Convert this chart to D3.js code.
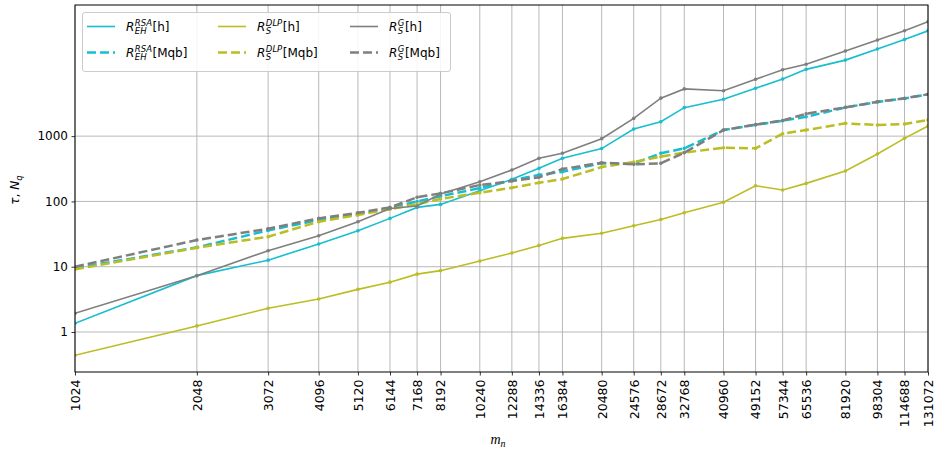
<!DOCTYPE html>
<html><head><meta charset="utf-8">
<script src="https://cdn.jsdelivr.net/npm/d3@7"></script>
<style>
html,body{margin:0;padding:0;background:#fff;}
svg{display:block;font-family:"DejaVu Sans",sans-serif;}
</style></head>
<body><svg id="c" width="935" height="453"></svg>
<script>
const mn = [1024, 2048, 3072, 4096, 5120, 6144, 7168, 8192, 10240, 12288, 14336, 16384, 20480, 24576, 28672, 32768, 40960, 49152, 57344, 65536, 81920, 98304, 114688, 131072];
const rsaH = [1.36, 7.3, 12.6, 22.3, 35.6, 55, 81, 90, 146, 218, 321, 457, 645, 1285, 1660, 2730, 3680, 5400, 7480, 10540, 14600, 21600, 30300, 41100];
const rsaQ = [9.5, 19.8, 36, 52, 64, 79, 100, 120, 160, 210, 255, 285, 385, 380, 546, 650, 1240, 1490, 1720, 1980, 2750, 3330, 3780, 4350];
const dlpH = [0.44, 1.24, 2.31, 3.2, 4.5, 5.8, 7.7, 8.7, 12.2, 16.2, 21.2, 27.2, 32.5, 42.5, 53, 67, 97, 174, 150, 189, 292, 532, 925, 1430];
const dlpQ = [9.1, 19.5, 28.8, 49, 62, 76, 91, 109, 136, 162, 193, 220, 336, 401, 484, 560, 664, 650, 1090, 1240, 1570, 1480, 1530, 1770];
const gH = [1.93, 7.28, 17.6, 29.8, 48.9, 78, 85, 130, 200, 303, 457, 546, 915, 1870, 3820, 5290, 4960, 7440, 10400, 12650, 20100, 29600, 41100, 56500];
const gQ = [10.0, 25.6, 38.2, 55, 67, 81, 116, 133, 178, 205, 234, 313, 392, 370, 383, 557, 1240, 1500, 1740, 2200, 2760, 3360, 3790, 4370];
const yTicks = [1, 10, 100, 1000];
const xTickLabels = mn.map(String);
const seriesNames = [
  {base:"R", sup:"RSA", sub:"EH", tail:"[h]"},
  {base:"R", sup:"RSA", sub:"EH", tail:"[Mqb]"},
  {base:"R", sup:"DLP", sub:"S", tail:"[h]"},
  {base:"R", sup:"DLP", sub:"S", tail:"[Mqb]"},
  {base:"R", sup:"G", sub:"S", tail:"[h]"},
  {base:"R", sup:"G", sub:"S", tail:"[Mqb]"}
];
const seriesVals = [rsaH, rsaQ, dlpH, dlpQ, gH, gQ];
const colors = ["#17becf", "#17becf", "#bcbd22", "#bcbd22", "#7f7f7f", "#7f7f7f"];
const dashed = [false, true, false, true, false, true];

const svg = d3.select("#c");
const L = 75, R = 928, T = 5, B = 372;
const x = d3.scaleLog().base(2).domain([1024, 131072]).range([L, R]);
const y = d3.scaleLog().domain([0.244, 1.02e5]).range([B, T]);

// grid
const g = svg.append("g");
g.selectAll(".gx").data(mn).enter().append("line")
  .attr("x1", d => x(d)).attr("x2", d => x(d)).attr("y1", T).attr("y2", B)
  .attr("stroke", "#b0b0b0").attr("stroke-width", 0.9);
g.selectAll(".gy").data(yTicks).enter().append("line")
  .attr("x1", L).attr("x2", R).attr("y1", d => y(d)).attr("y2", d => y(d))
  .attr("stroke", "#b0b0b0").attr("stroke-width", 0.9);

// lines
svg.append("clipPath").attr("id", "clp").append("rect")
  .attr("x", L).attr("y", T).attr("width", R - L).attr("height", B - T);
const line = d3.line().x(d => x(d[0])).y(d => y(d[1]));
seriesVals.forEach((vals, i) => {
  const pts = mn.map((m, j) => [m, vals[j]]);
  const gg = svg.append("g").attr("clip-path", "url(#clp)");
  gg.append("path").datum(pts).attr("d", line).attr("fill", "none")
    .attr("stroke", colors[i]).attr("stroke-width", dashed[i] ? 2.5 : 1.6)
    .attr("stroke-dasharray", dashed[i] ? "9,4" : null);
  gg.selectAll("circle").data(pts).enter().append("circle")
    .attr("cx", d => x(d[0])).attr("cy", d => y(d[1])).attr("r", 1.8)
    .attr("fill", colors[i]);
});

// axes
const xAxis = d3.axisBottom(x).tickValues(mn).tickFormat((d, i) => xTickLabels[i]).tickSize(3.5).tickPadding(3);
const xg = svg.append("g").attr("transform", `translate(0,${B})`).call(xAxis);
xg.select(".domain").remove();
xg.selectAll(".tick line").attr("stroke", "#000").attr("stroke-width", 0.8);
xg.selectAll(".tick text").attr("transform", "rotate(-90)").attr("text-anchor", "end")
  .attr("x", -7.5).attr("y", 0).attr("dy", "0.35em").attr("font-size", 12.5)
  .attr("font-family", "DejaVu Sans").attr("fill", "#000");
const yAxis = d3.axisLeft(y).tickValues(yTicks).tickFormat(d3.format("d")).tickSize(3.5).tickPadding(3.5);
const yg = svg.append("g").attr("transform", `translate(${L},0)`).call(yAxis);
yg.select(".domain").remove();
yg.selectAll(".tick line").attr("stroke", "#000").attr("stroke-width", 0.8);
yg.selectAll(".tick text").attr("font-size", 12).attr("font-family", "DejaVu Sans").attr("fill", "#000");

svg.append("rect").attr("x", L).attr("y", T).attr("width", R - L).attr("height", B - T)
  .attr("fill", "none").attr("stroke", "#000").attr("stroke-width", 1);

// axis labels
const yl = svg.append("text").attr("transform", "translate(19,190) rotate(-90)")
  .attr("text-anchor", "middle").attr("font-size", 12).attr("font-family", "DejaVu Sans");
yl.append("tspan").attr("font-style", "italic").text("τ");
yl.append("tspan").text(", ");
yl.append("tspan").attr("font-style", "italic").text("N");
yl.append("tspan").attr("font-style", "italic").attr("font-size", 8.5).attr("dy", 3).text("q");

const xl = svg.append("text").attr("x", 498).attr("y", 444).attr("text-anchor", "middle")
  .attr("font-size", 14).attr("font-family", "Liberation Serif").attr("font-style", "italic");
xl.append("tspan").text("m");
xl.append("tspan").attr("font-size", 10).attr("dy", 3).text("n");

// legend
const lg = svg.append("g");
lg.append("rect").attr("x", 82.5).attr("y", 12.5).attr("width", 368).attr("height", 59)
  .attr("rx", 2.5).attr("fill", "#fff").attr("fill-opacity", 0.85).attr("stroke", "#cccccc").attr("stroke-width", 1);
const colX = [87, 218, 350];
const rowY = [26.5, 52.5];
// measure helper
const meas = svg.append("text").attr("font-family", "DejaVu Sans").attr("font-style", "italic")
  .attr("font-size", 8.5).attr("visibility", "hidden");
function textW(s) { meas.text(s); return meas.node().getComputedTextLength(); }
seriesNames.forEach((s, i) => {
  const c = Math.floor(i / 2), r = i % 2;
  const lx = colX[c], ly = rowY[r];
  lg.append("line").attr("x1", lx).attr("x2", lx + 28).attr("y1", ly).attr("y2", ly)
    .attr("stroke", colors[i]).attr("stroke-width", dashed[i] ? 2.5 : 1.6)
    .attr("stroke-dasharray", dashed[i] ? "9,4" : null);
  const tx = lx + 39, ty = ly + 4.5;
  const wSup = textW(s.sup), wSub = textW(s.sub);
  const t = lg.append("text").attr("x", tx).attr("y", ty).attr("font-size", 12)
    .attr("font-family", "DejaVu Sans");
  t.append("tspan").attr("font-style", "italic").text(s.base);
  t.append("tspan").attr("font-style", "italic").attr("font-size", 8.5).attr("dx", 0.5).attr("dy", -5).text(s.sup);
  t.append("tspan").attr("font-style", "italic").attr("font-size", 8.5).attr("dx", -wSup).attr("dy", 7.5).text(s.sub);
  const back = Math.max(wSup, wSub) - wSub + 0.5;
  t.append("tspan").attr("dx", back).attr("dy", -2.5).text(s.tail);
});
meas.remove();
</script></body></html>
